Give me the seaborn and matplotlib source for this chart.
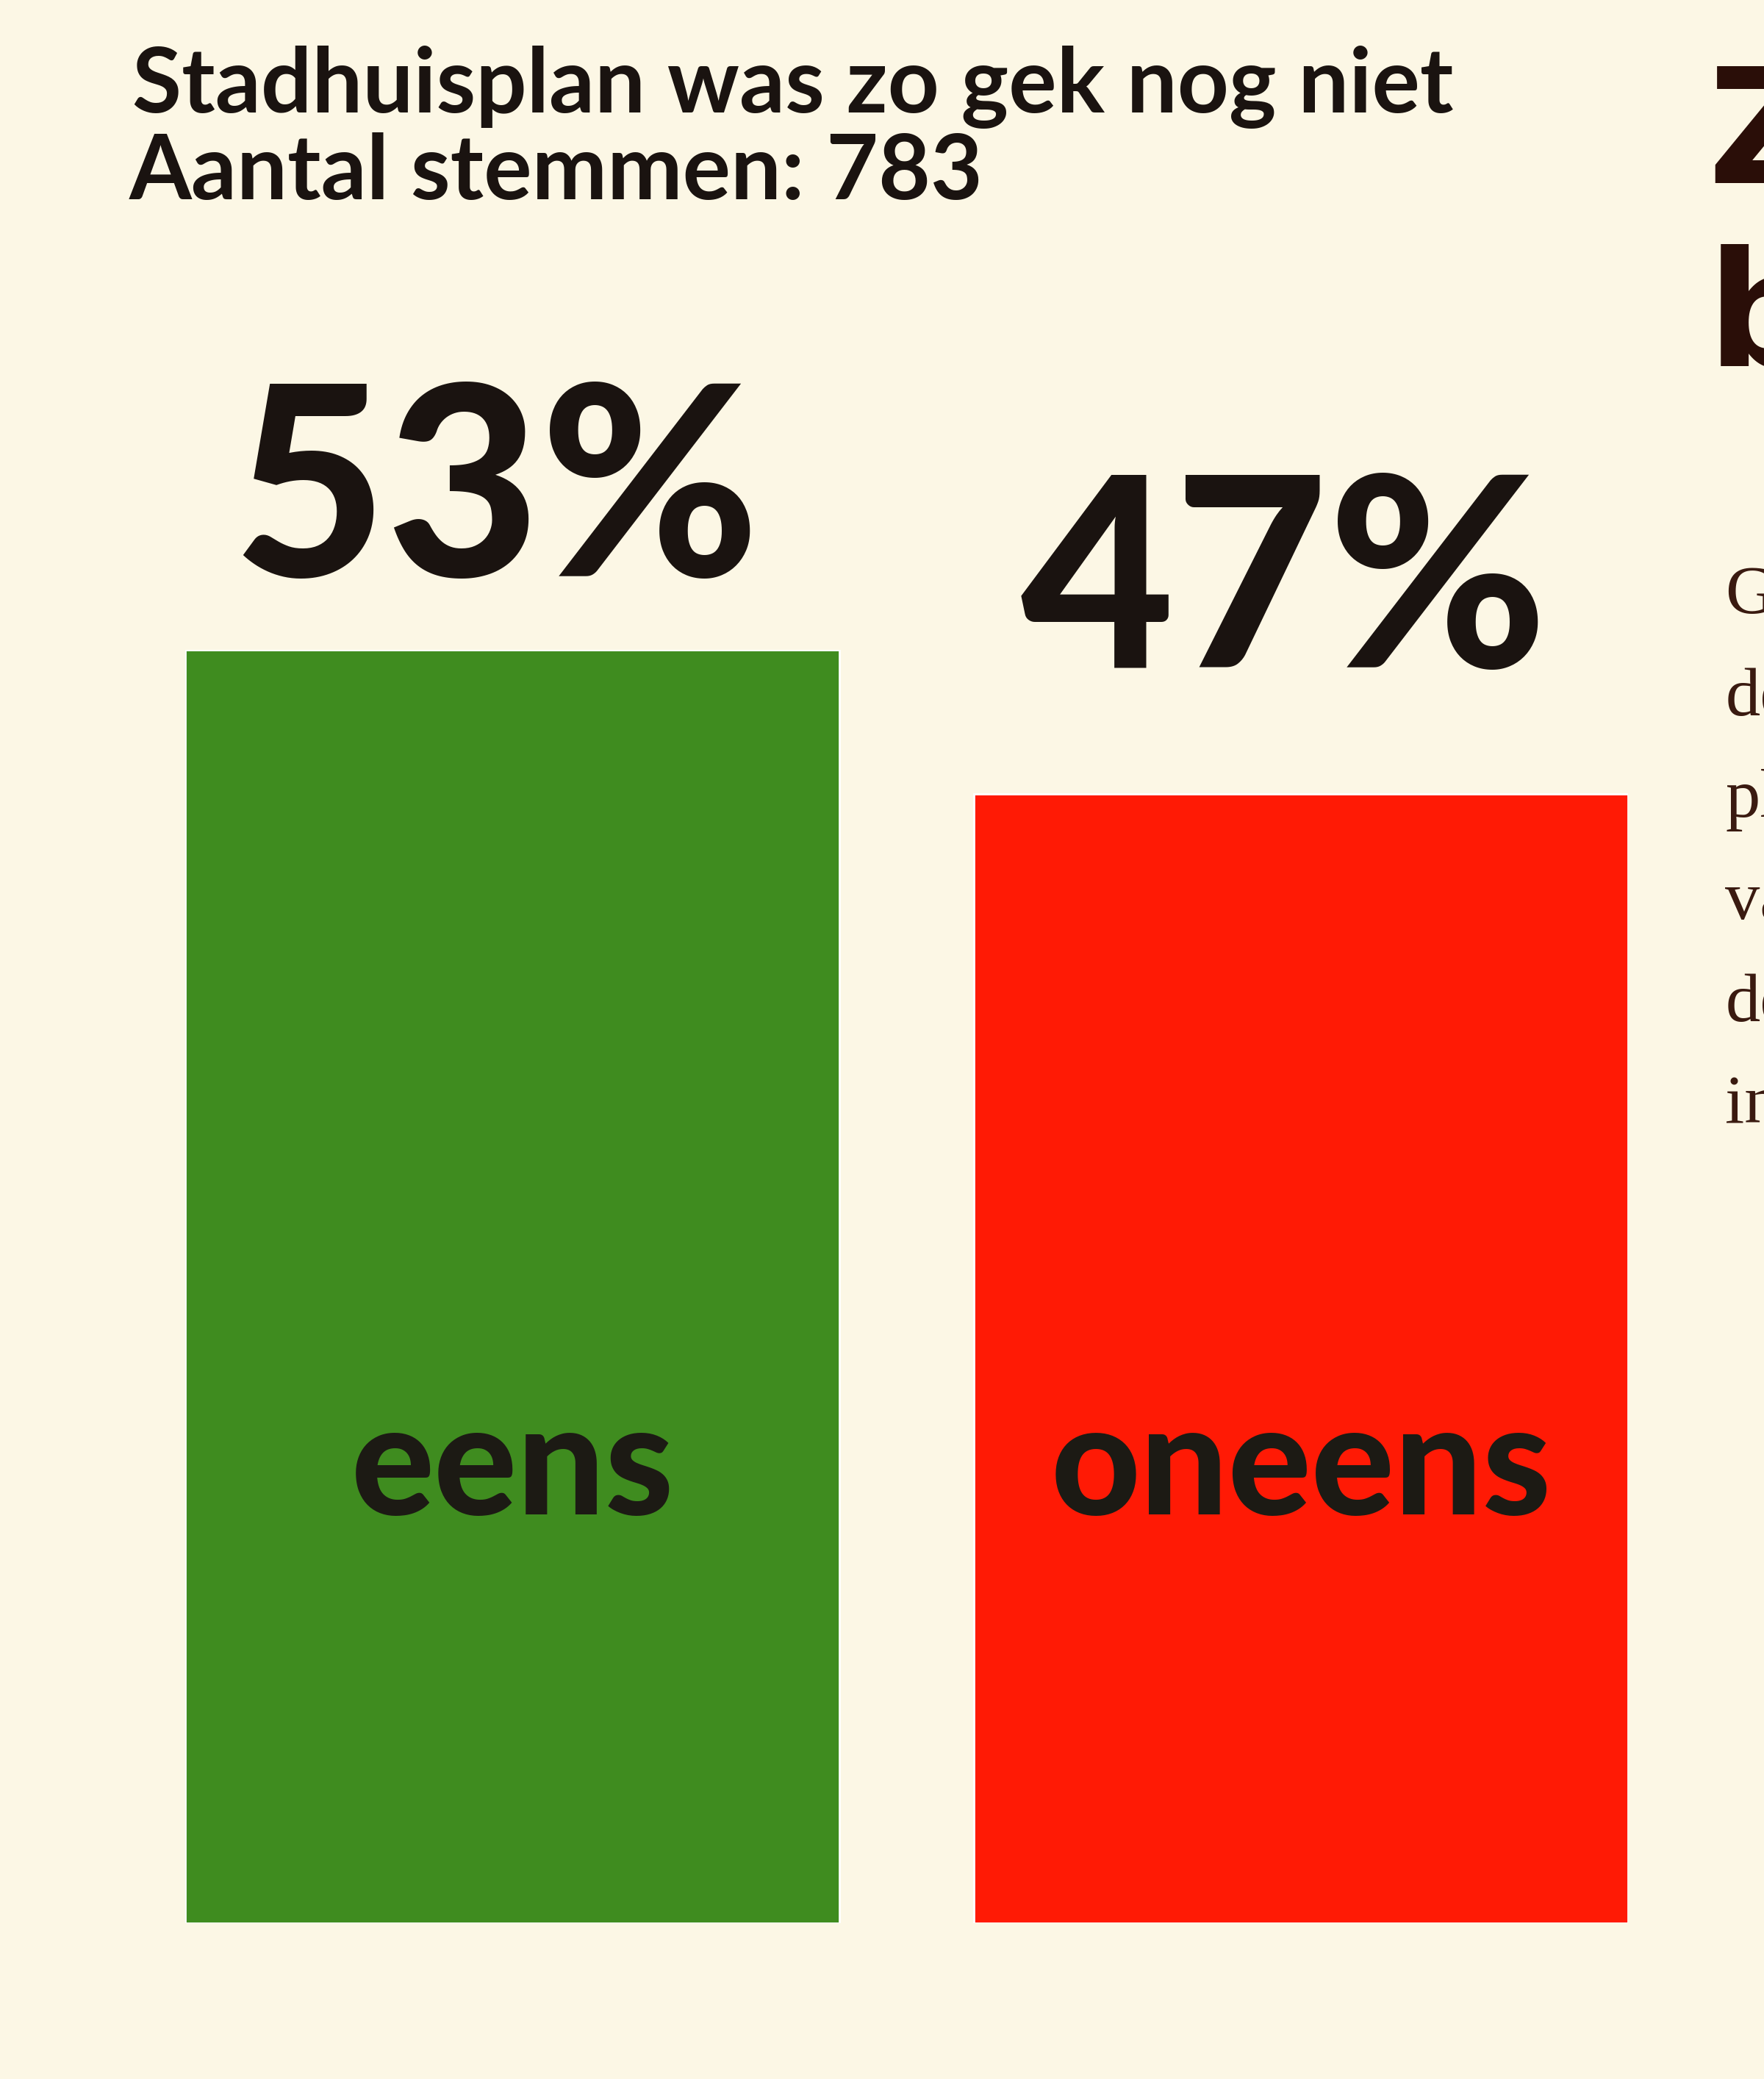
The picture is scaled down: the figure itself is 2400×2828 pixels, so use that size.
import matplotlib
matplotlib.use("Agg")
import matplotlib.pyplot as plt
import seaborn as sns
import pandas as pd

# chart values
antwoorden = ["eens", "oneens"]
percentages = [53, 47]
kleuren = ["#3f8c1f", "#ff1a05"]
titel = "Stadhuisplan was zo gek nog niet"
ondertitel = "Aantal stemmen: 783"

# cut-off neighbouring article on the right edge
kop_rechts = ["Zo", "be"]
tekst_rechts = ["Ge", "de", "pl", "va", "de", "in"]

df = pd.DataFrame({"antwoord": antwoorden, "procent": percentages})

sns.set_theme(style="white")
plt.rcParams["font.family"] = ["Lato", "DejaVu Sans"]

bg = "#fcf7e5"
fig = plt.figure(figsize=(12, 14.14), dpi=200, facecolor=bg)
ax = fig.add_axes([0.105, 0.075, 0.818, 0.6125])
ax.set_facecolor(bg)

sns.barplot(data=df, x="antwoord", y="procent", hue="antwoord",
            palette=kleuren, width=0.83, legend=False, ax=ax,
            saturation=1)

ax.set_ylim(0, 53)
ax.set_xlim(-0.415, 1.415)
ax.axis("off")

# label offsets above the bars (points), the photo shows the 47% set higher
offsets = [36, 62]
for bar, v, naam, off in zip(ax.patches, percentages, antwoorden, offsets):
    x = bar.get_x() + bar.get_width() / 2
    ax.annotate(f"{v}%", (x, bar.get_height()), xytext=(-8, off),
                textcoords="offset points", ha="center", va="baseline",
                fontsize=130, fontweight="black", color="#1a1310",
                annotation_clip=False)
    ax.text(x, 17, naam, ha="center", va="baseline", fontsize=76,
            fontweight="black", color="#1c1a14")

fig.text(0.075, 0.946, titel, ha="left", va="baseline", fontsize=44,
         fontweight="bold", color="#1a1310")
fig.text(0.073, 0.904, ondertitel, ha="left", va="baseline", fontsize=44,
         fontweight="bold", color="#1a1310")

for i, s in enumerate(kop_rechts):
    fig.text(0.968, 0.912 - i * 0.088, s, ha="left", va="baseline",
             fontsize=78, fontweight="bold", color="#2a0e08",
             family=["DejaVu Sans"])
for i, s in enumerate(tekst_rechts):
    fig.text(0.978, 0.705 - i * 0.049, s, ha="left", va="baseline",
             fontsize=34, color="#3a1a10", family=["Liberation Serif"])

fig.savefig("out.png", dpi=200, facecolor=bg)
